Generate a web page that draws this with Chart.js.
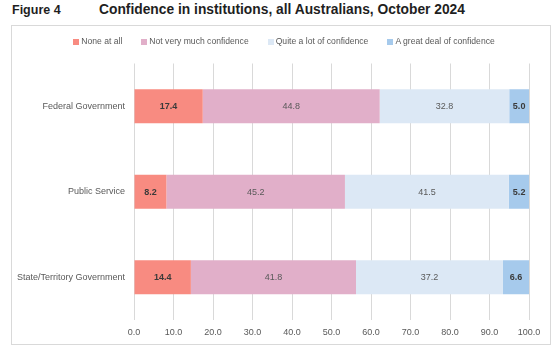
<!DOCTYPE html>
<html>
<head>
<meta charset="utf-8">
<script src="https://cdn.jsdelivr.net/npm/chart.js@4"></script>
<style>
  html, body { margin: 0; padding: 0; background: #ffffff; }
  body { width: 559px; height: 350px; position: relative; overflow: hidden; font-family: "Liberation Sans", Arial, sans-serif; }
  .fig { position: absolute; top: 2px; left: 12px; font-size: 12.5px; font-weight: bold; color: #1f1f1f; line-height: 16px; }
  .ttl { position: absolute; top: 2px; left: 99px; font-size: 13.8px; font-weight: bold; color: #1f1f1f; line-height: 16px; white-space: nowrap; }
  .box { position: absolute; left: 11px; top: 25px; width: 538px; height: 318px; border: 1px solid #d9d9d9; }
  .legend { position: absolute; left: 0; top: 10px; width: 538px; display: flex; justify-content: center; gap: 19px; padding-left: 6px; box-sizing: border-box; }
  .legend span { display: flex; align-items: center; font-size: 8.6px; color: #595959; line-height: 11px; white-space: nowrap; }
  .legend i { display: inline-block; width: 6px; height: 6px; margin-right: 2px; }
  canvas { display: block; }
</style>
</head>
<body>
<div class="fig">Figure 4</div>
<div class="ttl">Confidence in institutions, all Australians, October 2024</div>
<div class="box">
  <div class="legend" id="legend"></div>
  <canvas id="c" width="538" height="318"></canvas>
</div>
<script>
// Institutions, top to bottom
const categories = ['Federal Government', 'Public Service', 'State/Territory Government'];

// Share of respondents (%) by level of confidence
const noneAtAll = [17.4, 8.2, 14.4];
const notVeryMuch = [44.8, 45.2, 41.8];
const quiteALot = [32.8, 41.5, 37.2];
const greatDeal = [5.0, 5.2, 6.6];

const seriesNames = ['None at all', 'Not very much confidence', 'Quite a lot of confidence', 'A great deal of confidence'];
const seriesColors = ['#f88b81', '#e1afc9', '#dce8f5', '#a6caec'];
const boldLabels = [true, false, false, true];

// Axis ticks
const xTicks = [0, 10, 20, 30, 40, 50, 60, 70, 80, 90, 100];

const seriesValues = [noneAtAll, notVeryMuch, quiteALot, greatDeal];

// Legend row above the plot
const legendEl = document.getElementById('legend');
seriesNames.forEach((name, i) => {
  const item = document.createElement('span');
  const swatch = document.createElement('i');
  swatch.style.background = seriesColors[i];
  item.appendChild(swatch);
  item.appendChild(document.createTextNode(name));
  legendEl.appendChild(item);
});

// Writes each segment's value in the middle of its bar
const segmentLabels = {
  id: 'segmentLabels',
  afterDatasetsDraw(chart) {
    const ctx = chart.ctx;
    ctx.save();
    ctx.textAlign = 'center';
    ctx.textBaseline = 'middle';
    chart.data.datasets.forEach((ds, i) => {
      const meta = chart.getDatasetMeta(i);
      ctx.font = (boldLabels[i] ? 'bold ' : '') + '9px "Liberation Sans", Arial, sans-serif';
      ctx.fillStyle = boldLabels[i] ? '#3a3a3a' : '#595959';
      meta.data.forEach((bar, j) => {
        const v = ds.data[j];
        const cx = (bar.x + bar.base) / 2;
        ctx.fillText(v.toFixed(1), cx, bar.y + 0.5);
      });
    });
    ctx.restore();
  }
};

new Chart(document.getElementById('c'), {
  type: 'bar',
  data: {
    labels: categories,
    datasets: seriesValues.map((vals, i) => ({
      label: seriesNames[i],
      data: vals,
      backgroundColor: seriesColors[i],
      borderWidth: 0,
      barPercentage: 0.4,
      categoryPercentage: 1.0
    }))
  },
  options: {
    indexAxis: 'y',
    responsive: false,
    animation: false,
    layout: { padding: { top: 37.5, right: 21, bottom: 0, left: 0 } },
    plugins: {
      legend: { display: false },
      tooltip: { enabled: false }
    },
    scales: {
      x: {
        stacked: true,
        min: 0,
        max: 100,
        afterBuildTicks(axis) { axis.ticks = xTicks.map(v => ({ value: v })); },
        afterFit(axis) { axis.height = 24; },
        grid: { color: '#d9d9d9', drawTicks: false },
        border: { display: false },
        ticks: {
          padding: 7,
          color: '#595959',
          maxRotation: 0,
          font: { size: 9, family: '"Liberation Sans", Arial, sans-serif' },
          callback: v => Number(v).toFixed(1)
        }
      },
      y: {
        stacked: true,
        afterFit(axis) { axis.width = 122; },
        grid: { display: false, drawTicks: false },
        border: { display: false },
        ticks: {
          padding: 9,
          color: '#595959',
          font: { size: 9, family: '"Liberation Sans", Arial, sans-serif' }
        }
      }
    }
  },
  plugins: [segmentLabels]
});
</script>
</body>
</html>
